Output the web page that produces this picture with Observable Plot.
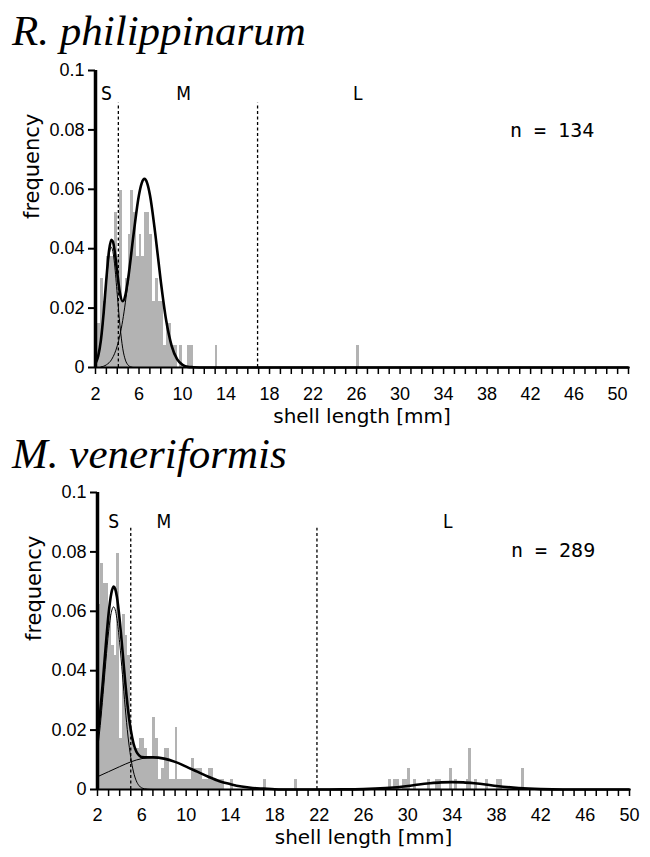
<!DOCTYPE html>
<html><head><meta charset="utf-8">
<script src="https://cdn.jsdelivr.net/npm/d3@7"></script>
<script src="https://cdn.jsdelivr.net/npm/@observablehq/plot@0.6"></script>
<style>
body{margin:0;background:#fff;}
#wrap{position:relative;width:650px;height:857px;overflow:hidden;background:#fff;}
.title{position:absolute;left:12px;font-family:"Liberation Serif","Times New Roman",serif;font-style:italic;font-size:43px;line-height:1;white-space:nowrap;color:#000;}
#wrap svg{position:absolute;left:0;}
</style></head><body>
<div id="wrap">
<div class="title" style="top:9px">R. philippinarum</div>
<div class="title" style="top:432px">M. veneriformis</div>
</div>
<script>
// ---------- shared ----------
const yTicks = [0, 0.02, 0.04, 0.06, 0.08, 0.1];
const yTickLabels = ["0", "0.02", "0.04", "0.06", "0.08", "0.1"];
const xTickLabels = [2, 6, 10, 14, 18, 22, 26, 30, 34, 38, 42, 46, 50];
const binWidth = 0.25;
const xLabel = "shell length [mm]";
const yLabel = "frequency";

// ---------- R. philippinarum ----------
const topN = 134;
const topBins = [2.00,2.25,2.50,2.75,3.00,3.25,3.50,3.75,4.00,4.25,4.50,4.75,5.00,5.25,5.50,5.75,6.00,6.25,6.50,6.75,7.00,7.25,7.50,7.75,8.00,8.25,8.50,8.75,9.00,9.25,9.75,10.50,10.75,13.00,26.00];
const topCounts = [2,2,4,3,5,5,5,7,5,8,3,4,6,8,7,5,6,5,7,7,6,3,4,3,3,1,2,2,1,1,1,1,1,1,1];
const topTotalX = [2,2.25,2.5,2.75,3,3.25,3.45,3.6,3.75,4,4.25,4.5,4.75,5,5.5,6,6.25,6.5,6.75,7,7.5,8,8.5,9,9.5,10,10.5,11,12,51];
const topTotalY = [.0014,.0039,.0093,.0185,.0299,.0395,.0430,.0424,.0395,.0319,.0250,.0223,.0244,.0299,.0449,.0582,.0621,.0635,.0621,.0582,.0449,.0291,.0158,.0073,.0028,.0009,.0002,.0001,0,0];
const topSX = [2,2.25,2.5,2.75,3,3.25,3.45,3.6,3.75,4,4.25,4.5,4.75,5,5.25,5.5];
const topSY = [.0013,.0038,.0091,.0180,.0290,.0379,.0405,.0390,.0349,.0246,.0141,.0065,.0025,.0008,.0002,0];
const topMX = [2.5,3,3.5,4,4.5,5,5.5,6,6.5,7,7.5,8,8.5,9,9.5,10,10.5,11,11.5];
const topMY = [.0002,.0009,.0028,.0073,.0158,.0291,.0449,.0582,.0635,.0582,.0449,.0291,.0158,.0073,.0028,.0009,.0002,.00005,0];
const topDividers = [4.1, 16.9];
const topDividerTop = 0.089;
const topClassText = ["S", "M", "L"];
const topClassX = [3.0, 10.1, 26.1];
const topClassY = 0.0922;
const topNText = "n = 134";
const topNX = 40.1, topNY = 0.0798;

// ---------- M. veneriformis ----------
const botN = 289;
const botBins = [2.00,2.25,2.50,2.75,3.00,3.25,3.50,3.75,4.00,4.25,4.50,4.75,5.00,5.25,5.50,5.75,6.00,6.25,6.50,6.75,7.00,7.25,7.50,7.75,8.00,8.25,8.50,8.75,9.00,9.25,9.50,9.75,10.00,10.25,10.50,10.75,11.00,11.25,11.50,11.75,12.00,12.25,12.50,12.75,13.00,13.25,14.00,17.00,19.75,28.25,28.75,29.00,29.50,29.75,30.00,30.50,31.75,32.50,32.75,33.75,34.25,35.25,35.50,36.00,37.00,38.00,38.25,40.25];
const botCounts = [18,22,20,20,17,14,13,23,5,17,15,13,5,4,4,5,5,4,3,3,7,5,1,2,4,4,1,1,6,1,1,1,1,1,3,2,2,2,1,1,2,2,1,1,1,1,1,1,1,1,1,1,1,1,2,1,1,1,1,2,1,1,4,1,1,1,1,2];
const botTotalX = [2,2.25,2.5,2.75,3,3.25,3.45,3.6,3.75,4,4.25,4.5,4.75,5,5.25,5.5,5.75,6,6.5,7,8,9,10,11,12,13,14,15,16,17,18,19,22,24,26,28,30,31,32,33,34,35,36,37,38,40,42,44,50];
const botTotalY = [.0177,.0263,.0371,.0486,.0591,.0661,.0683,.0675,.0649,.0571,.0469,.0362,.0270,.0201,.0155,.0128,.0115,.0109,.0108,.0108,.0104,.0093,.0077,.0060,.0043,.0028,.0018,.0010,.0005,.0003,.0001,0,0,.00003,.00014,.0005,.0012,.0017,.0021,.0024,.0025,.0024,.0021,.0017,.0012,.0005,.00014,0,0];
const botSX = [2,2.25,2.5,2.75,3,3.25,3.45,3.6,3.75,4,4.25,4.5,4.75,5,5.25,5.5,5.75,6,6.5,7];
const botSY = [.0134,.0216,.0320,.0431,.0531,.0597,.0615,.0605,.0576,.0494,.0387,.0276,.0180,.0108,.0059,.0029,.0013,.0005,.0001,0];
const botMX = [2,3,4,5,6,7,8,9,10,11,12,13,14,15,16,17,18,19];
const botMY = [.0043,.0060,.0077,.0093,.0104,.0108,.0104,.0093,.0077,.0060,.0043,.0028,.0018,.0010,.0005,.0003,.0001,0];
const botDividers = [5.0, 21.8];
const botDividerTop = 0.088;
const botClassText = ["S", "M", "L"];
const botClassX = [3.47, 7.99, 33.6];
const botClassY = 0.090;
const botNText = "n = 289";
const botNX = 39.3, botNY = 0.0805;

function pts(xs, ys) { return xs.map((x, i) => ({x, y: ys[i]})); }

function panel(o) {
  const bars = o.bins.map((b, i) => ({x1: b, x2: b + binWidth, f: o.counts[i] / o.n}));
  const classes = o.classText.map((t, i) => ({text: t, x: o.classX[i], y: o.classY}));
  const minor = d3.range(2, o.xMax + 1);
  return Plot.plot({
    width: 650, height: o.height,
    marginLeft: o.marginLeft, marginRight: o.marginRight, marginTop: 10, marginBottom: o.height - 307,
    x: {domain: [2, o.xMax]},
    y: {domain: [0, 0.1]},
    style: {fontFamily: "'Liberation Sans', Arial, sans-serif", fontSize: "18px", color: "#000", background: "transparent", overflow: "visible"},
    marks: [
      Plot.rectY(bars, {x1: "x1", x2: "x2", y: "f", fill: "#b3b3b3", inset: 0, shapeRendering: "crispEdges"}),
      Plot.line(pts(o.sX, o.sY), {x: "x", y: "y", stroke: "#000", strokeWidth: 1, curve: "monotone-x"}),
      Plot.line(pts(o.mX, o.mY), {x: "x", y: "y", stroke: "#000", strokeWidth: 1, curve: "monotone-x"}),
      Plot.line(pts(o.tX, o.tY), {x: "x", y: "y", stroke: "#000", strokeWidth: 2.6, curve: "monotone-x"}),
      Plot.ruleX(o.dividers, {y1: 0, y2: o.dividerTop, stroke: "#000", strokeWidth: 1.3, strokeDasharray: "3,2.5"}),
      Plot.text(classes, {x: "x", y: "y", text: "text", fontSize: 19, fontFamily: "'DejaVu Sans Condensed','Liberation Sans Narrow','DejaVu Sans',sans-serif", fontStretch: "condensed"}),
      Plot.text([o.nText], {x: o.nX, y: o.nY, text: d => d, textAnchor: "start", fontSize: 20, fontFamily: "'DejaVu Sans Mono', monospace"}),
      Plot.ruleY([0], {x1: 2, x2: o.xMax, stroke: "#000", strokeWidth: 2}),
      Plot.ruleX([2], {y1: 0, y2: 0.1, stroke: "#000", strokeWidth: 3.5}),
      Plot.axisY({ticks: yTicks, tickFormat: d => yTickLabels[yTicks.indexOf(d)], tickSize: 7, tickPadding: 4, strokeWidth: 2, label: null}),
      Plot.axisX({ticks: minor, tickSize: 7, strokeWidth: 1.5, fill: "none", label: null}),
      Plot.axisX({ticks: xTickLabels, tickSize: 0, tickPadding: o.tickPad, label: null}),
      Plot.text([yLabel], {text: d => d, frameAnchor: "left", dx: -63, rotate: -90, fontSize: 21, fontFamily: "'DejaVu Sans', sans-serif"}),
      Plot.text([xLabel], {text: d => d, frameAnchor: "bottom", dy: o.xLabelDy, fontSize: 20, fontFamily: "'DejaVu Sans', sans-serif"})
    ]
  });
}

const wrap = document.getElementById("wrap");
const top1 = panel({
  height: 377, marginLeft: 95, marginRight: 22, xMax: 51, tickPad: 20, xLabelDy: 55,
  bins: topBins, counts: topCounts, n: topN,
  tX: topTotalX, tY: topTotalY, sX: topSX, sY: topSY, mX: topMX, mY: topMY,
  dividers: topDividers, dividerTop: topDividerTop,
  classText: topClassText, classX: topClassX, classY: topClassY,
  nText: topNText, nX: topNX, nY: topNY
});
top1.style.top = "60px";
wrap.appendChild(top1);

const bot1 = panel({
  height: 375, marginLeft: 97, marginRight: 21, xMax: 50, tickPad: 19, xLabelDy: 54,
  bins: botBins, counts: botCounts, n: botN,
  tX: botTotalX, tY: botTotalY, sX: botSX, sY: botSY, mX: botMX, mY: botMY,
  dividers: botDividers, dividerTop: botDividerTop,
  classText: botClassText, classX: botClassX, classY: botClassY,
  nText: botNText, nX: botNX, nY: botNY
});
bot1.style.top = "482px";
wrap.appendChild(bot1);
</script>
</body></html>
